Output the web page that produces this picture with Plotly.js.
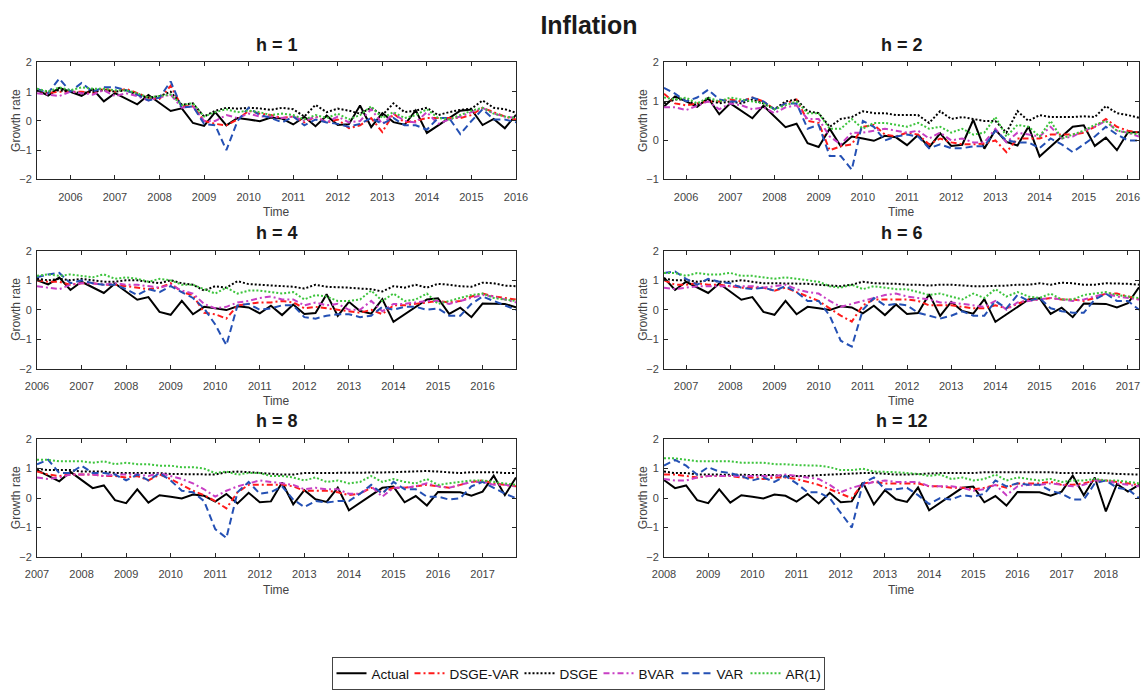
<!DOCTYPE html>
<html><head><meta charset="utf-8">
<script src="https://cdn.plot.ly/plotly-3.0.1.min.js"></script>
<style>html,body{margin:0;padding:0;background:#fff}#chart{width:1146px;height:690px}</style>
</head><body><div id="chart"></div><script>
// ---------- DATA ----------
const horizons = [1, 2, 4, 6, 8, 12];
const panelStart = [2005.25, 2005.5, 2006.0, 2006.5, 2007.0, 2008.0]; // first quarter shown in each panel
const actualStart = 2005.25;
const actual = [1.05,0.87,1.13,1.0,0.86,1.09,0.67,0.95,0.77,0.57,0.89,0.61,0.34,0.43,-0.07,-0.17,0.3,-0.15,0.1,0.05,
  -0.01,0.12,0.08,-0.12,0.14,-0.18,0.18,-0.14,-0.11,0.53,-0.21,0.27,-0.04,-0.13,0.36,-0.41,-0.15,0.1,0.35,0.39,
  -0.14,0.07,-0.25,0.21,0.21,0.2,0.08,0.22,0.76,0.1,0.7,-0.45,0.48,0.22,0.45];

// h = 1
const dsgevar_h1 = [1.05,0.95,1.0,1.0,1.0,0.95,1.1,1.0,1.1,0.95,0.8,0.75,1.2,0.5,0.5,0.0,-0.1,-0.15,0.05,0.35,0.25,0.2,0.1,0.15,-0.05,0.15,-0.05,0.05,-0.25,-0.15,0.1,-0.38,0.25,-0.05,0.0,0.1,0.1,0.1,0.1,0.2,0.45,0.3,0.15,0.05];
const dsge_h1 = [1.05,1.0,1.05,1.0,0.95,1.0,1.05,1.0,1.05,0.9,0.8,0.85,1.0,0.55,0.6,0.15,0.35,0.45,0.42,0.45,0.43,0.38,0.45,0.4,0.15,0.55,0.3,0.42,0.35,0.25,0.45,0.2,0.6,0.3,0.35,0.45,0.2,0.3,0.38,0.42,0.7,0.45,0.4,0.28];
const bvar_h1 = [0.95,0.9,0.85,1.0,0.95,0.9,1.05,0.85,0.95,0.85,0.7,0.8,0.9,0.45,0.5,0.0,0.0,0.2,0.1,0.25,0.15,0.15,0.1,0.15,0.0,0.15,-0.05,0.15,-0.05,0.0,0.4,-0.1,0.25,0.0,-0.05,0.3,-0.1,0.05,0.15,0.3,0.45,0.25,0.15,0.1];
const var_h1 = [1.1,0.95,1.45,1.0,1.3,1.0,1.15,1.15,1.05,0.9,0.7,0.8,1.35,0.45,0.5,-0.1,-0.15,-1.0,0.0,0.45,0.2,0.1,-0.05,0.15,-0.15,0.05,-0.05,-0.1,-0.2,-0.1,0.1,-0.1,0.1,-0.15,-0.15,-0.3,0.1,0.1,-0.45,0.0,0.4,0.05,0.05,-0.05];
const ar1_h1 = [1.1,1.0,1.15,1.05,1.15,1.1,1.1,1.05,1.05,0.95,0.8,0.85,0.9,0.55,0.6,0.15,0.3,0.4,0.3,0.35,0.3,0.2,0.25,0.2,0.05,0.2,0.1,0.25,0.05,0.2,0.5,0.1,0.3,0.1,0.2,0.4,0.1,0.05,0.2,0.35,0.45,0.25,0.15,0.1];

// h = 2
const dsgevar_h2 = [1.2,0.95,0.9,0.95,1.0,1.0,1.05,1.0,1.1,1.0,0.8,0.95,1.05,0.5,0.45,-0.25,-0.15,-0.1,0.35,0.4,0.15,0.1,0.2,0.15,-0.1,0.05,-0.05,-0.1,-0.1,-0.08,0.0,-0.3,0.05,0.05,0.05,0.15,0.15,0.15,0.2,0.35,0.55,0.35,0.25,0.2];
const dsge_h2 = [0.95,1.05,1.05,0.9,1.05,0.95,1.0,0.95,1.05,0.95,0.8,1.0,1.05,0.75,0.7,0.35,0.55,0.6,0.75,0.7,0.7,0.65,0.65,0.65,0.45,0.75,0.55,0.6,0.55,0.5,0.5,0.2,0.75,0.5,0.65,0.6,0.6,0.6,0.62,0.6,0.88,0.7,0.65,0.58];
const bvar_h2 = [0.85,0.85,0.78,0.9,1.0,0.8,0.95,0.9,0.8,0.85,0.7,0.85,0.9,0.55,0.55,0.1,-0.1,0.2,0.2,0.25,0.3,0.25,0.2,0.25,0.05,0.2,0.0,0.05,-0.05,-0.05,0.3,-0.05,0.2,0.15,0.1,0.35,0.05,0.1,0.25,0.35,0.5,0.25,0.2,0.1];
const var_h2 = [1.35,1.2,1.0,1.1,1.3,1.05,1.0,1.0,1.1,1.0,0.8,0.95,0.95,0.3,0.4,-0.4,-0.4,-0.75,0.5,0.35,0.0,0.1,0.15,0.1,-0.2,-0.1,-0.2,-0.2,-0.15,-0.15,0.25,0.0,-0.05,-0.05,-0.2,0.05,-0.1,-0.3,-0.1,0.1,0.35,0.15,0.0,0.0];
const ar1_h2 = [1.1,1.05,1.1,0.95,1.1,1.0,1.1,1.05,1.0,0.95,0.8,0.9,1.0,0.7,0.7,0.3,0.3,0.55,0.3,0.45,0.45,0.4,0.35,0.45,0.3,0.35,0.2,0.3,0.15,0.2,0.6,0.1,0.4,0.35,0.1,0.5,0.05,0.15,0.25,0.4,0.5,0.25,0.2,0.15];

// h = 4
const dsgevar_h4 = [1.0,0.95,0.95,0.85,0.9,0.9,0.85,0.85,0.8,0.75,0.7,0.75,0.9,0.6,0.5,-0.1,-0.15,-0.3,0.15,0.2,0.25,0.25,0.3,0.25,0.05,0.1,0.05,0.0,-0.05,-0.1,0.0,-0.15,0.15,0.15,0.2,0.25,0.3,0.25,0.3,0.45,0.55,0.45,0.4,0.35];
const dsge_h4 = [1.05,1.0,1.05,1.0,1.05,1.0,0.95,0.95,1.0,1.0,0.95,0.9,1.0,0.9,0.85,0.65,0.8,0.75,0.97,0.87,0.85,0.82,0.8,0.78,0.72,0.85,0.78,0.77,0.75,0.72,0.7,0.62,0.8,0.75,0.85,0.75,0.88,0.85,0.8,0.78,0.92,0.9,0.82,0.8];
const bvar_h4 = [0.8,0.75,0.7,0.85,0.9,0.9,0.85,0.9,0.85,0.85,0.8,0.75,0.85,0.65,0.55,0.2,0.05,0.1,0.25,0.3,0.4,0.45,0.35,0.35,0.15,0.25,0.15,0.2,0.0,0.0,0.3,-0.05,0.2,0.2,0.25,0.3,0.3,0.2,0.3,0.4,0.5,0.45,0.35,0.25];
const var_h4 = [1.1,1.2,1.25,0.9,1.0,0.9,0.85,0.85,0.7,0.5,0.7,0.6,0.8,0.6,0.4,0.05,-0.5,-1.2,0.15,0.2,0.0,0.05,0.15,0.15,-0.25,-0.3,-0.2,-0.15,-0.15,-0.25,-0.2,0.1,0.0,0.1,0.1,0.0,0.05,-0.2,-0.2,0.2,0.45,0.3,0.15,0.0];
const ar1_h4 = [1.15,1.2,1.15,1.2,1.15,1.1,1.2,1.05,1.1,1.05,0.95,1.05,1.0,0.85,0.85,0.7,0.55,0.75,0.55,0.65,0.65,0.6,0.55,0.6,0.35,0.5,0.45,0.3,0.3,0.35,0.65,0.3,0.55,0.3,0.35,0.55,0.2,0.3,0.4,0.5,0.55,0.4,0.35,0.3];

// h = 6
const dsgevar_h6 = [1.0,0.85,0.85,0.9,0.85,0.85,0.8,0.75,0.75,0.75,0.65,0.75,0.6,0.45,0.3,0.05,-0.2,-0.4,0.15,0.35,0.35,0.35,0.35,0.3,0.15,0.15,0.15,0.1,0.05,0.05,0.15,0.05,0.2,0.35,0.35,0.4,0.35,0.35,0.3,0.4,0.55,0.55,0.45,0.35];
const dsge_h6 = [1.05,1.0,1.0,0.95,1.0,0.95,0.95,1.0,0.95,0.9,0.9,0.9,0.9,0.88,0.85,0.82,0.8,0.85,0.95,0.9,0.9,0.88,0.85,0.85,0.82,0.85,0.85,0.82,0.8,0.8,0.8,0.82,0.85,0.85,0.9,0.85,0.92,0.9,0.85,0.85,0.9,0.9,0.88,0.85];
const bvar_h6 = [0.75,0.7,0.75,0.8,0.8,0.8,0.8,0.8,0.8,0.75,0.8,0.85,0.7,0.6,0.55,0.3,0.1,0.2,0.3,0.4,0.5,0.55,0.45,0.4,0.35,0.25,0.25,0.2,0.15,0.1,0.3,0.0,0.25,0.3,0.35,0.4,0.35,0.3,0.35,0.45,0.55,0.45,0.4,0.35];
const var_h6 = [1.25,1.3,1.05,0.85,1.05,0.95,0.9,0.75,0.7,0.75,0.65,0.8,0.6,0.3,0.3,-0.2,-1.05,-1.25,0.0,0.4,0.15,0.2,0.15,-0.1,-0.2,-0.3,-0.2,-0.05,-0.2,-0.2,0.3,0.05,0.5,0.3,0.4,0.05,-0.05,-0.1,-0.1,0.35,0.55,0.3,0.3,0.0];
const ar1_h6 = [1.25,1.25,1.15,1.25,1.2,1.2,1.25,1.15,1.15,1.1,1.05,1.1,1.05,1.0,0.95,0.8,0.75,0.85,0.7,0.8,0.75,0.7,0.7,0.6,0.5,0.55,0.45,0.35,0.55,0.4,0.7,0.45,0.6,0.45,0.4,0.55,0.35,0.35,0.5,0.55,0.6,0.5,0.45,0.4];

// h = 8
const dsgevar_h8 = [0.9,0.8,0.75,0.8,0.8,0.8,0.75,0.75,0.7,0.75,0.6,0.8,0.65,0.45,0.25,0.1,-0.1,-0.35,0.2,0.45,0.45,0.45,0.45,0.4,0.25,0.25,0.25,0.2,0.1,0.15,0.35,0.2,0.35,0.35,0.4,0.45,0.4,0.35,0.45,0.55,0.6,0.5,0.45,0.4];
const dsge_h8 = [1.0,0.95,0.95,0.95,0.9,0.9,0.9,0.85,0.85,0.85,0.85,0.85,0.82,0.82,0.8,0.8,0.8,0.88,0.9,0.88,0.85,0.82,0.8,0.8,0.85,0.85,0.85,0.85,0.85,0.85,0.85,0.87,0.88,0.9,0.9,0.92,0.9,0.88,0.85,0.88,0.88,0.88,0.85,0.85];
const bvar_h8 = [0.7,0.65,0.7,0.8,0.8,0.8,0.75,0.8,0.8,0.8,0.75,0.85,0.75,0.65,0.5,0.3,0.05,0.25,0.4,0.5,0.6,0.55,0.5,0.45,0.3,0.35,0.3,0.3,0.15,0.15,0.4,0.05,0.35,0.35,0.4,0.5,0.4,0.35,0.45,0.55,0.55,0.45,0.45,0.4];
const var_h8 = [1.15,1.3,0.85,0.85,1.1,0.85,0.85,0.8,0.6,0.8,0.6,0.85,0.6,0.25,0.2,-0.1,-1.05,-1.35,0.2,0.55,0.15,0.2,0.4,-0.05,-0.3,-0.1,-0.15,-0.1,-0.1,0.15,0.45,0.15,0.55,0.3,0.3,0.05,0.05,-0.05,0.0,0.4,0.55,0.35,0.15,0.0];
const ar1_h8 = [1.3,1.3,1.25,1.25,1.25,1.2,1.25,1.15,1.2,1.15,1.15,1.1,1.1,1.05,1.05,1.0,0.85,0.9,0.8,0.85,0.85,0.75,0.75,0.7,0.6,0.7,0.55,0.6,0.5,0.55,0.75,0.55,0.65,0.55,0.5,0.65,0.45,0.5,0.55,0.6,0.6,0.55,0.5,0.45];

// h = 12
const dsgevar_h12 = [0.8,0.8,0.75,0.7,0.75,0.75,0.75,0.7,0.7,0.65,0.7,0.7,0.65,0.55,0.45,0.3,0.15,0.0,0.5,0.55,0.5,0.5,0.5,0.5,0.4,0.4,0.35,0.35,0.3,0.35,0.45,0.35,0.5,0.5,0.5,0.55,0.45,0.45,0.5,0.6,0.6,0.55,0.5,0.45];
const dsge_h12 = [0.9,0.85,0.85,0.8,0.8,0.8,0.78,0.78,0.78,0.78,0.78,0.75,0.75,0.75,0.78,0.8,0.82,0.85,0.85,0.85,0.82,0.8,0.8,0.82,0.85,0.85,0.85,0.85,0.85,0.88,0.88,0.9,0.9,0.9,0.9,0.88,0.85,0.85,0.85,0.85,0.85,0.82,0.8,0.8];
const bvar_h12 = [0.65,0.6,0.6,0.7,0.75,0.75,0.75,0.75,0.75,0.75,0.75,0.8,0.75,0.7,0.65,0.45,0.2,0.35,0.45,0.55,0.6,0.55,0.55,0.55,0.4,0.4,0.4,0.35,0.25,0.3,0.45,0.1,0.4,0.45,0.45,0.5,0.45,0.4,0.45,0.6,0.6,0.5,0.45,0.4];
const var_h12 = [1.1,1.3,1.1,0.8,1.05,0.9,0.85,0.75,0.6,0.7,0.55,0.75,0.5,0.2,0.2,0.0,-0.5,-1.0,0.5,0.7,0.3,0.3,0.35,0.1,-0.2,0.0,-0.05,0.1,0.05,0.15,0.6,0.4,0.5,0.45,0.45,0.25,0.15,-0.05,-0.05,0.5,0.6,0.35,0.3,0.0];
const ar1_h12 = [1.35,1.35,1.3,1.25,1.25,1.25,1.25,1.2,1.2,1.2,1.15,1.15,1.12,1.1,1.1,1.05,0.95,0.95,1.0,0.9,0.9,0.88,0.85,0.82,0.75,0.8,0.65,0.7,0.6,0.65,0.8,0.6,0.7,0.65,0.6,0.65,0.55,0.6,0.6,0.65,0.6,0.6,0.55,0.5];

const seriesNames = ['Actual', 'DSGE-VAR', 'DSGE', 'BVAR', 'VAR', 'AR(1)'];
const forecasts = {
  'DSGE-VAR': [dsgevar_h1, dsgevar_h2, dsgevar_h4, dsgevar_h6, dsgevar_h8, dsgevar_h12],
  'DSGE':     [dsge_h1, dsge_h2, dsge_h4, dsge_h6, dsge_h8, dsge_h12],
  'BVAR':     [bvar_h1, bvar_h2, bvar_h4, bvar_h6, bvar_h8, bvar_h12],
  'VAR':      [var_h1, var_h2, var_h4, var_h6, var_h8, var_h12],
  'AR(1)':    [ar1_h1, ar1_h2, ar1_h4, ar1_h6, ar1_h8, ar1_h12]
};
const yRanges = [[-2, 2], [-1, 2], [-2, 2], [-2, 2], [-2, 2], [-2, 2]];

// ---------- STYLE ----------
const FONT = 'Liberation Sans, Arial, Helvetica, sans-serif';
const styles = {
  'Actual':   {color: '#000000', dash: 'solid', width: 2, lw: 33},
  'DSGE-VAR': {color: '#ff1a1a', dash: '6px,3px,2px,3px', width: 2, lw: 65},
  'DSGE':     {color: '#000000', dash: '2px,2px', width: 2, lw: 34},
  'BVAR':     {color: '#c83fc4', dash: '6px,3px,2px,3px', width: 2, lw: 33},
  'VAR':      {color: '#2450b4', dash: '7px,4px', width: 2, lw: 24},
  'AR(1)':    {color: '#3dc43d', dash: '2px,2px', width: 2, lw: 33}
};
const W = 1146, H = 690;
const colX = [[37, 516], [664, 1139]];
const rowY = [[63, 181], [253, 372], [443, 562]];

// ---------- BUILD ----------
const traces = [];
const layout = {
  width: W, height: H,
  margin: {l: 0, r: 0, t: 0, b: 0, pad: 0},
  paper_bgcolor: '#ffffff', plot_bgcolor: '#ffffff',
  font: {family: FONT, color: '#444'},
  title: {text: '<b>Inflation</b>', font: {family: FONT, size: 25, color: '#1a1a1a'},
          x: 589 / W, xref: 'paper', xanchor: 'center', y: 1 - 25 / H, yref: 'container', yanchor: 'middle'},
  showlegend: true,
  legend: {orientation: 'h', x: 578 / W, xanchor: 'center', y: 1 - 663 / H, yanchor: 'top',
           bordercolor: '#444', borderwidth: 1, font: {family: FONT, size: 13.5, color: '#111'},
           itemwidth: 30, tracegroupgap: 0, bgcolor: '#ffffff'},
  annotations: []
};

horizons.forEach((h, p) => {
  const col = p % 2, row = Math.floor(p / 2);
  const sfx = p === 0 ? '' : String(p + 1);
  const n = dsge_h1.length;
  const x = [];
  for (let i = 0; i < n; i++) x.push(panelStart[p] + 0.25 * i);
  const off = Math.round((panelStart[p] - actualStart) * 4);
  const dataFor = {'Actual': actual.slice(off, off + n)};
  Object.keys(forecasts).forEach(k => { dataFor[k] = forecasts[k][p]; });
  seriesNames.forEach(name => {
    const s = styles[name];
    traces.push({type: 'scatter', mode: 'lines', name: name, x: x, y: dataFor[name],
      xaxis: 'x' + sfx, yaxis: 'y' + sfx, legendgroup: name, showlegend: p === 0, legendwidth: s.lw,
      line: {color: s.color, dash: s.dash, width: s.width}, hoverinfo: 'x+y+name'});
  });
  const xd = [colX[col][0] / W, colX[col][1] / W];
  const yd = [1 - rowY[row][1] / H, 1 - rowY[row][0] / H];
  const axCommon = {showline: true, linecolor: '#262626', linewidth: 1, mirror: 'ticks', ticks: 'inside',
    ticklen: 4, tickcolor: '#262626', showgrid: false, zeroline: false, fixedrange: true,
    tickfont: {family: FONT, size: 11, color: '#444'}};
  layout['xaxis' + sfx] = Object.assign({}, axCommon, {domain: xd, anchor: 'y' + sfx,
    range: [panelStart[p], panelStart[p] + 0.25 * (n - 1)], tick0: 2000, dtick: 1, tickformat: 'd',
    ticklabelstandoff: 7});
  layout['yaxis' + sfx] = Object.assign({}, axCommon, {domain: yd, anchor: 'x' + sfx,
    range: yRanges[p], dtick: 1, tick0: 0, ticklabelstandoff: 2});
  const cx = (colX[col][0] + colX[col][1]) / 2 / W;
  layout.annotations.push({text: '<b>h = ' + h + '</b>', xref: 'paper', yref: 'paper', x: cx,
    y: 1 - (rowY[row][0] - 18) / H, xanchor: 'center', yanchor: 'middle', showarrow: false,
    font: {family: FONT, size: 18, color: '#1a1a1a'}});
  layout.annotations.push({text: 'Time', xref: 'paper', yref: 'paper', x: cx,
    y: 1 - (rowY[row][1] + 33) / H, xanchor: 'center', yanchor: 'middle', showarrow: false,
    font: {family: FONT, size: 12, color: '#444'}});
  layout.annotations.push({text: 'Growth rate', xref: 'paper', yref: 'paper', textangle: -90,
    x: (colX[col][0] - 21) / W, y: 1 - (rowY[row][0] + rowY[row][1]) / 2 / H, xanchor: 'center', yanchor: 'middle',
    showarrow: false, font: {family: FONT, size: 12, color: '#444'}});
});

Plotly.newPlot('chart', traces, layout, {staticPlot: true, displayModeBar: false});
</script></body></html>
